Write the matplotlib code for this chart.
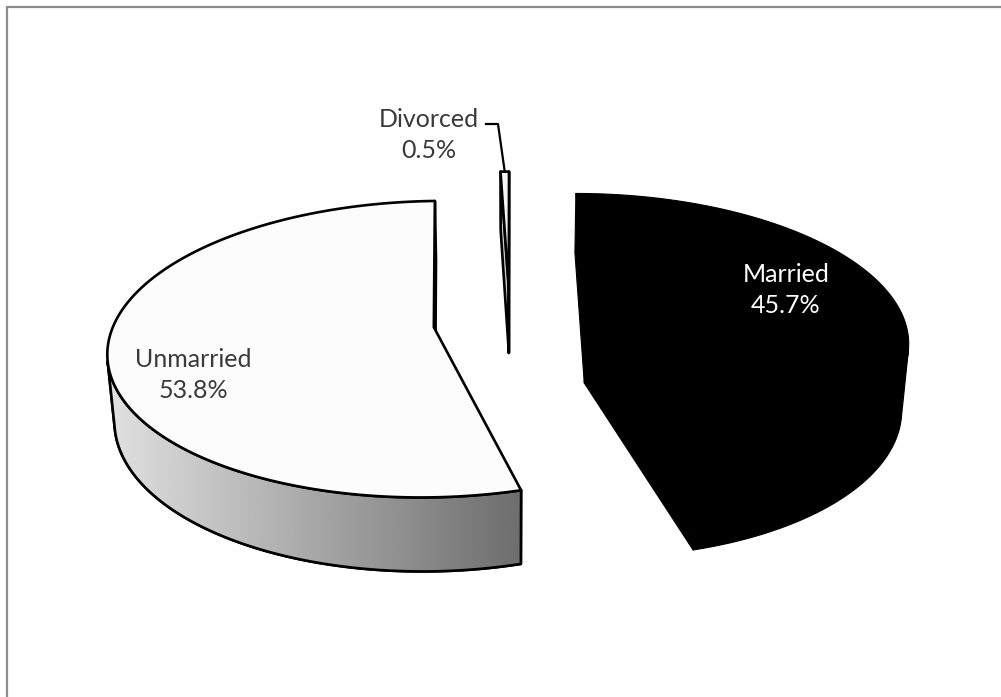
import numpy as np
import matplotlib
matplotlib.use("Agg")
import matplotlib.pyplot as plt
from matplotlib.patches import Polygon

# marital status shares (%)
labels = ["Married", "Unmarried", "Divorced"]
shares = [45.7, 53.8, 0.5]
top_colors = ["#000000", "#fcfcfc", "#f4f4f4"]
wall_colors = ["#000000", "#f0f0f0", "#c8c8c8"]
label_colors = ["white", "#3a3a3a", "#3a3a3a"]

# 3-D view settings (pixel units)
X0, Y0 = 510, 322      # screen position of the pie centre
SCALE = 1935           # focal scale
CAM_DIST = 6.06        # camera distance in pie radii
TILT = np.radians(26.7)
DEPTH = 0.235          # slice thickness in radii
EXPLODE = 0.24
cos_t, sin_t = np.cos(TILT), np.sin(TILT)
CAM = np.array([0.0, -CAM_DIST * cos_t, CAM_DIST * sin_t])


def project(xw, yw, zw):
    ry = np.asarray(yw) + CAM_DIST * cos_t
    rz = np.asarray(zw) - CAM_DIST * sin_t
    depth = ry * cos_t - rz * sin_t
    up = ry * sin_t + rz * cos_t
    return X0 + SCALE * np.asarray(xw) / depth, Y0 - SCALE * up / depth


def facing(normal, point):
    return np.dot(normal, CAM - np.asarray(point)) > 0


fig = plt.figure(figsize=(10.01, 6.97), dpi=100)
ax = fig.add_axes([0, 0, 1, 1])
ax.set_xlim(0, 1001)
ax.set_ylim(697, 0)
ax.axis("off")

# chart frame
ax.plot([6.5, 6.5, 1001], [697, 6.5, 6.5], color="#8c8c8c", lw=1.6, solid_joinstyle="miter")

EDGE = dict(edgecolor="black", linewidth=1.9, joinstyle="round")

# slice angles, clockwise from 12 o'clock
bounds = 90 - 360 * np.cumsum([0] + shares) / 100.0
slices = []
for i in range(len(shares)):
    a1, a2 = np.radians(bounds[i]), np.radians(bounds[i + 1])
    mid = (a1 + a2) / 2
    slices.append((i, a1, a2, EXPLODE * np.cos(mid), EXPLODE * np.sin(mid)))

# draw far slices first
slices.sort(key=lambda s: -s[4])

label_pos = {"Married": (786, 290), "Unmarried": (193, 375), "Divorced": (429, 135)}

for i, a1, a2, ox, oy in slices:
    th = np.linspace(a2, a1, 400)
    rx, ry = ox + np.cos(th), oy + np.sin(th)
    edge = dict(EDGE)
    if top_colors[i] == "#000000":
        edge["linewidth"] = 0.8

    # radial walls
    for ang, nrm in ((a1, a1 + np.pi / 2), (a2, a2 - np.pi / 2)):
        n = np.array([np.cos(nrm), np.sin(nrm), 0.0])
        if facing(n, (ox, oy, 0)):
            wx = [ox, ox + np.cos(ang), ox + np.cos(ang), ox]
            wy = [oy, oy + np.sin(ang), oy + np.sin(ang), oy]
            wz = [0, 0, -DEPTH, -DEPTH]
            px, py = project(wx, wy, wz)
            ax.add_patch(Polygon(np.column_stack([px, py]), facecolor=wall_colors[i], **edge))

    # outer side wall, visible part only
    vis = -ox * np.cos(th) - 1 - np.sin(th) * (CAM_DIST * cos_t + oy) > 0
    if vis.any():
        idx = np.where(vis)[0]
        tx, ty = project(rx[idx], ry[idx], np.zeros(idx.size))
        bx, by = project(rx[idx], ry[idx], np.full(idx.size, -DEPTH))
        pts = np.column_stack([np.r_[tx, bx[::-1]], np.r_[ty, by[::-1]]])
        side = Polygon(pts, facecolor=wall_colors[i], **edge)
        ax.add_patch(side)
        if labels[i] == "Unmarried":
            # grey shading across the rim
            grad = np.linspace(0.88, 0.43, 256)[None, :]
            im = ax.imshow(grad, cmap="gray", vmin=0, vmax=1, aspect="auto",
                           extent=(pts[:, 0].min(), pts[:, 0].max(), pts[:, 1].max(), pts[:, 1].min()),
                           zorder=side.get_zorder())
            im.set_clip_path(side)
            ax.add_patch(Polygon(pts, facecolor="none", **edge))

    # top face
    fx, fy = project(np.r_[ox, rx], np.r_[oy, ry], np.zeros(th.size + 1))
    ax.add_patch(Polygon(np.column_stack([fx, fy]), facecolor=top_colors[i], **edge))

    name = labels[i]
    lx, ly = label_pos[name]
    ax.text(lx, ly, f"{name}\n{shares[i]}%", ha="center", va="center",
            fontsize=18, family=["Lato", "DejaVu Sans"], color=label_colors[i],
            linespacing=1.45, zorder=5)

    if name == "Divorced":
        mid = (a1 + a2) / 2
        tipx, tipy = project(ox + np.cos(mid), oy + np.sin(mid), 0.0)
        ax.plot([486, 498, tipx], [124, 124, tipy], color="black", lw=1.6, zorder=5)

fig.savefig("out.png", dpi=100, facecolor="white")
